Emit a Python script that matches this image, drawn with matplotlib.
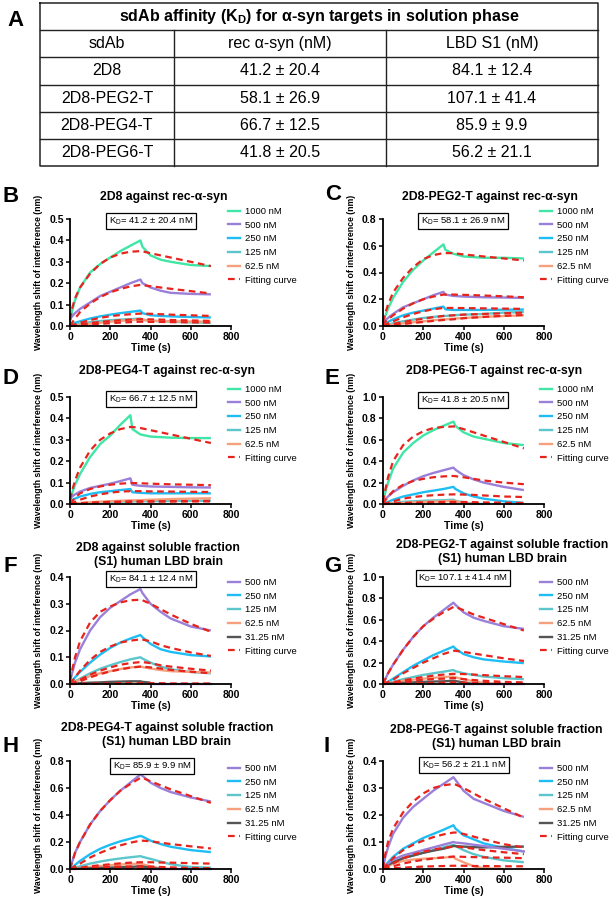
import matplotlib
matplotlib.use("Agg")
import matplotlib.pyplot as plt
from matplotlib.lines import Line2D

plt.rcParams['font.family'] = ['Liberation Sans', 'DejaVu Sans']
plt.rcParams['mathtext.fontset'] = 'custom'
plt.rcParams['mathtext.rm'] = 'Liberation Sans'
plt.rcParams['mathtext.bf'] = 'Liberation Sans:bold'
plt.rcParams['mathtext.it'] = 'Liberation Sans:italic'

nan = float('nan')

# ---------------- Table data ----------------
table_title = r"sdAb affinity (K$_\mathbf{D}$) for α-syn targets in solution phase"
table_header = ["sdAb", "rec α-syn (nM)", "LBD S1 (nM)"]
sdabs = ["2D8", "2D8-PEG2-T", "2D8-PEG4-T", "2D8-PEG6-T"]
kd_rec = ["41.2 ± 20.4", "58.1 ± 26.9", "66.7 ± 12.5", "41.8 ± 20.5"]
kd_lbd = ["84.1 ± 12.4", "107.1 ± 41.4", "85.9 ± 9.9", "56.2 ± 21.1"]

# ---------------- Sensorgram data ----------------
T350 = [0, 10, 25, 50, 100, 150, 200, 250, 300, 350, 360, 400, 450, 500, 600, 700]
T300 = [0, 10, 25, 50, 100, 150, 200, 250, 300, 310, 350, 400, 500, 600, 700]

rec_labels = ["1000 nM", "500 nM", "250 nM", "125 nM", "62.5 nM"]
lbd_labels = ["500 nM", "250 nM", "125 nM", "62.5 nM", "31.25 nM"]

# Panel B : 2D8 vs rec-a-syn
B_obs = [
    [0.02, 0.07, 0.12, 0.18, 0.25, 0.29, 0.32, 0.35, 0.375, 0.40, 0.37, 0.33, 0.31, 0.30, 0.285, 0.28],
    [0.03, 0.045, 0.06, 0.08, 0.11, 0.14, 0.16, 0.18, 0.20, 0.217, 0.20, 0.18, 0.165, 0.155, 0.15, 0.148],
    [0.0, 0.008, 0.015, 0.022, 0.035, 0.045, 0.053, 0.06, 0.066, 0.072, 0.06, 0.05, 0.047, 0.045, 0.042, 0.04],
    [0.0, 0.003, 0.006, 0.01, 0.018, 0.023, 0.027, 0.03, 0.032, 0.035, 0.03, 0.025, 0.022, 0.02, 0.017, 0.015],
    [0.0, 0.002, 0.004, 0.006, 0.01, 0.015, 0.02, 0.024, 0.027, 0.03, 0.028, 0.025, 0.023, 0.022, 0.021, 0.02],
]
B_fit = [
    [0.03, 0.08, 0.13, 0.18, 0.245, 0.29, 0.32, 0.338, 0.347, 0.35, 0.349, 0.34, 0.33, 0.32, 0.30, 0.28],
    [0.0, 0.015, 0.035, 0.065, 0.105, 0.135, 0.157, 0.173, 0.185, 0.192, 0.191, 0.186, 0.18, 0.174, 0.163, 0.152],
    [0.0, 0.004, 0.008, 0.015, 0.028, 0.038, 0.046, 0.051, 0.055, 0.058, 0.058, 0.057, 0.055, 0.053, 0.05, 0.047],
    [0.0, 0.002, 0.004, 0.008, 0.014, 0.019, 0.023, 0.027, 0.03, 0.032, 0.032, 0.031, 0.03, 0.028, 0.026, 0.024],
    [0.0, 0.001, 0.002, 0.004, 0.007, 0.01, 0.013, 0.016, 0.018, 0.02, 0.02, 0.019, 0.019, 0.018, 0.017, 0.016],
]

# Panel C : 2D8-PEG2-T vs rec-a-syn
C_obs = [
    [0.02, 0.07, 0.13, 0.21, 0.33, 0.42, 0.49, 0.55, 0.61, 0.57, 0.54, 0.52, 0.51, 0.51, 0.505],
    [0.02, 0.04, 0.06, 0.09, 0.14, 0.17, 0.20, 0.23, 0.255, 0.235, 0.225, 0.22, 0.215, 0.213, 0.21],
    [0.01, 0.02, 0.03, 0.05, 0.08, 0.10, 0.115, 0.13, 0.145, 0.125, 0.12, 0.12, 0.12, 0.122, 0.123],
    [0.0, 0.005, 0.01, 0.02, 0.035, 0.048, 0.06, 0.068, 0.075, 0.075, 0.08, 0.085, 0.09, 0.10, 0.105],
    [0.0, 0.003, 0.006, 0.01, 0.02, 0.028, 0.035, 0.043, 0.05, 0.05, 0.055, 0.06, 0.068, 0.075, 0.08],
]
C_fit = [
    [0.03, 0.09, 0.16, 0.25, 0.36, 0.44, 0.50, 0.53, 0.545, 0.545, 0.545, 0.535, 0.52, 0.505, 0.49],
    [0.0, 0.03, 0.05, 0.08, 0.13, 0.17, 0.20, 0.22, 0.235, 0.235, 0.235, 0.233, 0.228, 0.222, 0.215],
    [0.0, 0.008, 0.02, 0.035, 0.065, 0.09, 0.11, 0.125, 0.135, 0.135, 0.135, 0.134, 0.132, 0.13, 0.128],
    [0.0, 0.003, 0.008, 0.015, 0.03, 0.043, 0.055, 0.066, 0.075, 0.076, 0.08, 0.085, 0.09, 0.095, 0.10],
    [0.0, 0.002, 0.004, 0.008, 0.015, 0.023, 0.03, 0.038, 0.045, 0.046, 0.05, 0.058, 0.068, 0.076, 0.082],
]

# Panel D : 2D8-PEG4-T vs rec-a-syn
D_obs = [
    [0.02, 0.05, 0.09, 0.14, 0.22, 0.28, 0.32, 0.37, 0.415, 0.35, 0.325, 0.315, 0.31, 0.308, 0.308],
    [0.02, 0.035, 0.045, 0.058, 0.075, 0.085, 0.095, 0.107, 0.12, 0.09, 0.085, 0.082, 0.08, 0.078, 0.077],
    [0.01, 0.018, 0.025, 0.035, 0.047, 0.055, 0.06, 0.065, 0.07, 0.055, 0.052, 0.05, 0.05, 0.05, 0.05],
    [0.0, 0.001, 0.002, 0.003, 0.005, 0.008, 0.01, 0.011, 0.012, 0.012, 0.013, 0.013, 0.014, 0.015, 0.015],
    [0.0, 0.001, 0.002, 0.004, 0.008, 0.011, 0.013, 0.015, 0.017, 0.017, 0.018, 0.02, 0.023, 0.025, 0.027],
]
D_fit = [
    [0.02, 0.06, 0.11, 0.17, 0.25, 0.30, 0.33, 0.35, 0.36, 0.36, 0.355, 0.345, 0.325, 0.305, 0.285],
    [0.0, 0.01, 0.03, 0.05, 0.07, 0.082, 0.09, 0.095, 0.098, 0.098, 0.097, 0.095, 0.092, 0.09, 0.088],
    [0.0, 0.004, 0.01, 0.02, 0.035, 0.045, 0.053, 0.058, 0.06, 0.06, 0.06, 0.059, 0.058, 0.057, 0.056],
    [0.0, 0.001, 0.002, 0.004, 0.007, 0.008, 0.01, 0.011, 0.012, 0.012, 0.012, 0.012, 0.012, 0.012, 0.012],
    [0.0, 0.001, 0.001, 0.002, 0.004, 0.006, 0.007, 0.009, 0.01, 0.01, 0.011, 0.012, 0.013, 0.014, 0.015],
]

# Panel E : 2D8-PEG6-T vs rec-a-syn
E_obs = [
    [0.02, 0.10, 0.20, 0.33, 0.48, 0.57, 0.64, 0.69, 0.73, 0.77, 0.73, 0.67, 0.63, 0.61, 0.57, 0.55],
    [0.01, 0.04, 0.07, 0.11, 0.17, 0.22, 0.26, 0.29, 0.315, 0.34, 0.32, 0.27, 0.23, 0.20, 0.16, 0.13],
    [0.0, 0.008, 0.02, 0.04, 0.07, 0.09, 0.11, 0.125, 0.14, 0.16, 0.14, 0.10, 0.07, 0.05, 0.025, 0.01],
    [0.0, 0.003, 0.006, 0.01, 0.02, 0.025, 0.03, 0.033, 0.035, 0.04, 0.03, 0.015, 0.003, 0.0, nan, nan],
    [0.0, 0.002, 0.004, 0.006, 0.01, 0.015, 0.02, 0.022, 0.025, 0.03, 0.025, 0.01, 0.0, nan, nan, nan],
]
E_fit = [
    [0.02, 0.12, 0.25, 0.40, 0.55, 0.63, 0.68, 0.71, 0.72, 0.725, 0.722, 0.70, 0.67, 0.64, 0.58, 0.52],
    [0.0, 0.03, 0.07, 0.12, 0.18, 0.215, 0.235, 0.25, 0.258, 0.262, 0.26, 0.25, 0.235, 0.22, 0.20, 0.185],
    [0.0, 0.005, 0.012, 0.025, 0.05, 0.065, 0.075, 0.082, 0.087, 0.09, 0.09, 0.088, 0.085, 0.08, 0.07, 0.065],
    [0.0, 0.001, 0.003, 0.005, 0.01, 0.013, 0.015, 0.017, 0.019, 0.02, 0.02, 0.019, 0.017, 0.015, 0.012, 0.01],
    [0.0, 0.0, 0.001, 0.002, 0.005, 0.006, 0.007, 0.008, 0.009, 0.01, 0.01, 0.009, 0.008, 0.007, 0.006, 0.005],
]

# Panel F : 2D8 vs LBD S1
F_obs = [
    [0.01, 0.04, 0.08, 0.13, 0.20, 0.25, 0.285, 0.31, 0.335, 0.355, 0.34, 0.30, 0.27, 0.245, 0.215, 0.20],
    [0.0, 0.01, 0.025, 0.045, 0.08, 0.11, 0.135, 0.155, 0.17, 0.183, 0.175, 0.15, 0.13, 0.12, 0.108, 0.103],
    [0.0, 0.004, 0.01, 0.02, 0.04, 0.057, 0.07, 0.082, 0.092, 0.10, 0.095, 0.08, 0.065, 0.055, 0.045, 0.04],
    [0.0, 0.003, 0.008, 0.015, 0.03, 0.04, 0.048, 0.056, 0.062, 0.065, 0.063, 0.058, 0.052, 0.048, 0.045, 0.043],
    [0.0, 0.001, 0.002, 0.003, 0.005, 0.006, 0.008, 0.009, 0.01, 0.01, 0.008, 0.005, nan, nan, nan, nan],
]
F_extra = [nan, nan, nan, nan, nan, nan, nan, nan, nan, nan, nan, 0.0, 0.0, 0.0, 0.0, 0.0]
F_fit = [
    [0.01, 0.05, 0.10, 0.16, 0.23, 0.27, 0.29, 0.305, 0.313, 0.315, 0.313, 0.30, 0.28, 0.26, 0.225, 0.195],
    [0.0, 0.01, 0.025, 0.05, 0.09, 0.12, 0.14, 0.155, 0.162, 0.167, 0.166, 0.16, 0.145, 0.135, 0.118, 0.105],
    [0.0, 0.003, 0.008, 0.016, 0.035, 0.05, 0.062, 0.072, 0.078, 0.082, 0.082, 0.078, 0.07, 0.065, 0.057, 0.05],
    [0.0, 0.002, 0.005, 0.01, 0.025, 0.037, 0.047, 0.055, 0.061, 0.065, 0.065, 0.062, 0.058, 0.053, 0.046, 0.04],
    [0.0, 0.0, 0.0, 0.001, 0.001, 0.002, 0.002, 0.003, 0.003, 0.003, 0.003, 0.003, 0.003, 0.002, 0.002, 0.002],
]

# Panel G : 2D8-PEG2-T vs LBD S1
G_obs = [
    [0.0, 0.04, 0.10, 0.18, 0.32, 0.44, 0.54, 0.62, 0.69, 0.76, 0.74, 0.67, 0.62, 0.59, 0.54, 0.515],
    [0.0, 0.008, 0.02, 0.05, 0.11, 0.17, 0.22, 0.27, 0.31, 0.35, 0.33, 0.28, 0.25, 0.23, 0.21, 0.195],
    [0.0, 0.004, 0.01, 0.02, 0.045, 0.065, 0.085, 0.10, 0.115, 0.13, 0.12, 0.10, 0.085, 0.07, 0.055, 0.045],
    [0.0, 0.003, 0.007, 0.015, 0.03, 0.04, 0.05, 0.058, 0.065, 0.07, 0.062, 0.045, 0.025, 0.01, 0.0, nan],
    [0.0, 0.002, 0.004, 0.006, 0.01, 0.015, 0.02, 0.023, 0.025, 0.03, 0.027, 0.015, 0.0, nan, nan, nan],
]
G_extra = [nan, nan, nan, nan, nan, nan, nan, nan, nan, nan, nan, 0.0, 0.0, 0.0, 0.0, 0.0]
G_fit = [
    [0.0, 0.04, 0.10, 0.18, 0.32, 0.44, 0.54, 0.61, 0.67, 0.72, 0.72, 0.69, 0.65, 0.62, 0.56, 0.50],
    [0.0, 0.008, 0.02, 0.04, 0.10, 0.15, 0.20, 0.24, 0.28, 0.31, 0.31, 0.30, 0.285, 0.27, 0.24, 0.215],
    [0.0, 0.003, 0.008, 0.015, 0.035, 0.05, 0.065, 0.078, 0.088, 0.095, 0.095, 0.093, 0.088, 0.083, 0.073, 0.065],
    [0.0, 0.002, 0.005, 0.01, 0.02, 0.03, 0.04, 0.046, 0.05, 0.055, 0.054, 0.045, 0.037, 0.03, 0.02, 0.015],
    [0.0, 0.0, 0.001, 0.002, 0.005, 0.007, 0.009, 0.011, 0.013, 0.015, 0.015, 0.013, 0.011, 0.009, 0.007, 0.005],
]

# Panel H : 2D8-PEG4-T vs LBD S1
H_obs = [
    [0.0, 0.05, 0.12, 0.20, 0.33, 0.43, 0.51, 0.58, 0.64, 0.70, 0.69, 0.64, 0.60, 0.57, 0.53, 0.50],
    [0.0, 0.01, 0.03, 0.06, 0.11, 0.15, 0.18, 0.205, 0.225, 0.245, 0.24, 0.21, 0.185, 0.165, 0.14, 0.125],
    [0.0, 0.004, 0.01, 0.02, 0.04, 0.055, 0.068, 0.078, 0.087, 0.095, 0.09, 0.075, 0.055, 0.035, 0.015, 0.01],
    [0.0, 0.002, 0.005, 0.008, 0.015, 0.022, 0.028, 0.033, 0.037, 0.04, 0.035, 0.02, 0.005, 0.0, nan, nan],
    [0.0, 0.001, 0.002, 0.003, 0.005, 0.008, 0.01, 0.013, 0.015, 0.02, 0.018, 0.01, 0.0, nan, nan, nan],
]
H_extra = [nan, nan, nan, nan, nan, nan, nan, nan, nan, nan, nan, 0.0, 0.0, 0.0, 0.0, 0.0]
H_fit = [
    [0.0, 0.05, 0.12, 0.20, 0.33, 0.43, 0.51, 0.58, 0.63, 0.675, 0.675, 0.65, 0.62, 0.59, 0.54, 0.49],
    [0.0, 0.008, 0.02, 0.04, 0.085, 0.12, 0.15, 0.175, 0.195, 0.21, 0.21, 0.205, 0.195, 0.185, 0.168, 0.152],
    [0.0, 0.002, 0.005, 0.01, 0.02, 0.028, 0.035, 0.042, 0.047, 0.05, 0.05, 0.05, 0.048, 0.047, 0.043, 0.04],
    [0.0, 0.001, 0.002, 0.004, 0.008, 0.012, 0.015, 0.018, 0.019, 0.02, 0.02, 0.018, 0.015, 0.012, 0.008, 0.005],
    [0.0, 0.0, 0.0, 0.001, 0.001, 0.002, 0.003, 0.004, 0.005, 0.005, 0.005, 0.005, 0.004, 0.004, 0.003, 0.002],
]

# Panel I : 2D8-PEG6-T vs LBD S1
I_obs = [
    [0.0, 0.04, 0.08, 0.13, 0.19, 0.23, 0.26, 0.29, 0.315, 0.34, 0.33, 0.29, 0.26, 0.245, 0.215, 0.193],
    [0.0, 0.01, 0.025, 0.045, 0.075, 0.095, 0.115, 0.13, 0.145, 0.162, 0.15, 0.125, 0.11, 0.095, 0.078, 0.065],
    [0.0, 0.006, 0.015, 0.025, 0.04, 0.05, 0.06, 0.07, 0.08, 0.09, 0.085, 0.07, 0.055, 0.045, 0.032, 0.025],
    [0.0, 0.004, 0.01, 0.02, 0.03, 0.035, 0.038, 0.04, 0.042, 0.045, 0.038, 0.025, 0.01, 0.003, 0.0, nan],
    [0.0, 0.006, 0.015, 0.025, 0.04, 0.05, 0.06, 0.068, 0.075, 0.085, 0.085, 0.083, 0.081, 0.08, 0.082, 0.083],
]
I_extra = [0.0, 0.008, 0.02, 0.035, 0.05, 0.06, 0.07, 0.08, 0.09, 0.10, 0.098, 0.095, 0.09, 0.085, 0.075, 0.065]
I_fit = [
    [0.0, 0.05, 0.10, 0.15, 0.21, 0.25, 0.28, 0.30, 0.31, 0.315, 0.313, 0.30, 0.28, 0.26, 0.225, 0.19],
    [0.0, 0.008, 0.02, 0.04, 0.07, 0.09, 0.105, 0.118, 0.128, 0.135, 0.135, 0.13, 0.12, 0.11, 0.092, 0.08],
    [0.0, 0.004, 0.01, 0.02, 0.04, 0.053, 0.064, 0.072, 0.078, 0.083, 0.083, 0.08, 0.075, 0.07, 0.062, 0.055],
    [0.0, 0.002, 0.005, 0.01, 0.02, 0.028, 0.034, 0.039, 0.043, 0.046, 0.046, 0.045, 0.044, 0.043, 0.042, 0.04],
    [0.0, 0.001, 0.002, 0.003, 0.005, 0.007, 0.009, 0.01, 0.011, 0.012, 0.012, 0.012, 0.011, 0.011, 0.01, 0.01],
]

titles = {
    "B": "2D8 against rec-α-syn",
    "C": "2D8-PEG2-T against rec-α-syn",
    "D": "2D8-PEG4-T against rec-α-syn",
    "E": "2D8-PEG6-T against rec-α-syn",
    "F": "2D8 against soluble fraction\n(S1) human LBD brain",
    "G": "2D8-PEG2-T against soluble fraction\n(S1) human LBD brain",
    "H": "2D8-PEG4-T against soluble fraction\n(S1) human LBD brain",
    "I": "2D8-PEG6-T against soluble fraction\n(S1) human LBD brain",
}
kd_text = {
    "B": "41.2 ± 20.4", "C": "58.1 ± 26.9", "D": "66.7 ± 12.5", "E": "41.8 ± 20.5",
    "F": "84.1 ± 12.4", "G": "107.1 ± 41.4", "H": "85.9 ± 9.9", "I": "56.2 ± 21.1",
}
ymax = {"B": 0.5, "C": 0.8, "D": 0.5, "E": 1.0, "F": 0.4, "G": 1.0, "H": 0.8, "I": 0.4}
ystep = {"B": 0.1, "C": 0.2, "D": 0.1, "E": 0.2, "F": 0.1, "G": 0.2, "H": 0.2, "I": 0.1}

# ---------------- Styling ----------------
W, H = 610, 899
rec_colors = ["#3fe6a6", "#9a80d8", "#1ebef4", "#5cc6cc", "#f6a07e"]
lbd_colors = ["#9a80d8", "#1ebef4", "#5cc6cc", "#f6a07e", "#555555"]
fit_color = "#e8231c"

fig = plt.figure(figsize=(W / 100, H / 100), dpi=100)


def fx(px):
    return px / W


def fy(py):
    return 1 - py / H


# ---------------- Panel A table ----------------
tl, tr, tt, tb = 40, 598, 3, 166
tax = fig.add_axes([fx(tl), fy(tb), fx(tr - tl), (tb - tt) / H])
tax.set_xlim(0, 1)
tax.set_ylim(6, 0)
tax.axis("off")
col_edges = [0, 0.24, 0.62, 1.0]
lc = "#222222"
tax.plot([0, 1, 1, 0, 0], [0, 0, 6, 6, 0], color=lc, lw=1.1, clip_on=False)
for r in range(1, 6):
    tax.plot([0, 1], [r, r], color=lc, lw=1.0, clip_on=False)
for c in col_edges[1:-1]:
    tax.plot([c, c], [1, 6], color=lc, lw=1.0, clip_on=False)
tax.text(0.5, 0.5, table_title, ha="center", va="center", fontsize=11.5, fontweight="bold")
centers = [(col_edges[i] + col_edges[i + 1]) / 2 for i in range(3)]
for i, h in enumerate(table_header):
    tax.text(centers[i], 1.5, h, ha="center", va="center", fontsize=11.5)
for r, (s, a, b) in enumerate(zip(sdabs, kd_rec, kd_lbd)):
    for i, v in enumerate([s, a, b]):
        tax.text(centers[i], 2.5 + r, v, ha="center", va="center", fontsize=11.5)
fig.text(fx(15), fy(20), "A", fontsize=16, fontweight="bold", ha="center", va="center")

# ---------------- Kinetic panels ----------------
col_left = [70, 383]
ax_w = 161
rows = [(326, 219), (504, 397), (684, 577), (869, 761)]

panels = [
    ("B", 0, 0, T350, B_obs, B_fit, None, rec_labels, rec_colors),
    ("C", 1, 0, T300, C_obs, C_fit, None, rec_labels, rec_colors),
    ("D", 0, 1, T300, D_obs, D_fit, None, rec_labels, rec_colors),
    ("E", 1, 1, T350, E_obs, E_fit, None, rec_labels, rec_colors),
    ("F", 0, 2, T350, F_obs, F_fit, F_extra, lbd_labels, lbd_colors),
    ("G", 1, 2, T350, G_obs, G_fit, G_extra, lbd_labels, lbd_colors),
    ("H", 0, 3, T350, H_obs, H_fit, H_extra, lbd_labels, lbd_colors),
    ("I", 1, 3, T350, I_obs, I_fit, I_extra, lbd_labels, lbd_colors),
]

title_pos = {"B": (164, 197), "C": (490, 197), "D": (167, 371), "E": (494, 371),
             "F": (158, 555), "G": (502, 552), "H": (167, 735), "I": (496, 737)}
letter_pos = {"B": (11, 197), "C": (333, 194), "D": (11, 378), "E": (332, 379),
              "F": (10, 567), "G": (333, 566), "H": (11, 747), "I": (327, 747)}
kd_pos = {"B": (151, 221), "C": (463, 221), "D": (151, 399), "E": (463, 400),
          "F": (151, 579), "G": (463, 578), "H": (152, 766), "I": (464, 765)}
legend_top = [207, 385, 578, 764]
legend_x = [228, 540]

for key, ci, ri, t, obs, fit, extra, labels, colors in panels:
    y0, ytop = rows[ri]
    left = col_left[ci]
    ax = fig.add_axes([fx(left), fy(y0), fx(ax_w), (y0 - ytop) / H])
    for y, c in zip(obs, colors):
        ax.plot(t, y, color=c, lw=1.7, clip_on=False, solid_capstyle="butt")
    if extra is not None:
        ax.plot(t, extra, color=colors[0], lw=1.7, clip_on=False)
    for y in fit:
        ax.plot(t, y, color=fit_color, lw=1.6, ls=(0, (3, 2)), clip_on=False)
    ax.set_xlim(0, 800)
    ax.set_ylim(0, ymax[key])
    ax.set_xticks([0, 200, 400, 600, 800])
    n = int(round(ymax[key] / ystep[key]))
    ax.set_yticks([round(i * ystep[key], 2) for i in range(n + 1)])
    ax.set_yticklabels([f"{i * ystep[key]:.1f}" for i in range(n + 1)])
    for s in ["top", "right"]:
        ax.spines[s].set_visible(False)
    for s in ["left", "bottom"]:
        ax.spines[s].set_linewidth(1.3)
    ax.tick_params(direction="out", length=3, width=1.1, labelsize=7.5, pad=1.5)
    for lab in ax.get_xticklabels() + ax.get_yticklabels():
        lab.set_fontweight("bold")
    ax.set_xlabel("Time (s)", fontsize=7.5, fontweight="bold")
    ax.xaxis.set_label_coords(0.5, -0.16)
    ax.set_ylabel("Wavelength shift of interference (nm)", fontsize=6.3, fontweight="bold")
    ax.yaxis.set_label_coords(-0.17, 0.5)

    handles = [Line2D([], [], color=c, lw=1.7) for c in colors]
    handles.append(Line2D([], [], color=fit_color, lw=1.6, ls=(0, (3, 2))))
    ax.legend(handles, labels + ["Fitting curve"], loc="upper left",
              bbox_to_anchor=(fx(legend_x[ci]), fy(legend_top[ri])),
              bbox_transform=fig.transFigure, frameon=False, fontsize=6.8,
              borderpad=0, borderaxespad=0, handlelength=1.3, handletextpad=0.55,
              labelspacing=0.5)

    tx, ty = title_pos[key]
    fig.text(fx(tx), fy(ty), titles[key], ha="center", va="center", fontsize=8.8,
             fontweight="bold", linespacing=1.15)
    lx, ly = letter_pos[key]
    fig.text(fx(lx), fy(ly), key, ha="center", va="center", fontsize=16, fontweight="bold")
    kx, ky = kd_pos[key]
    fig.text(fx(kx), fy(ky), r"K$_\mathrm{D}$= " + kd_text[key] + " nM", ha="center",
             va="center", fontsize=6.8,
             bbox=dict(boxstyle="square,pad=0.28", fc="white", ec="black", lw=0.9))

fig.savefig("out.png", dpi=100)
